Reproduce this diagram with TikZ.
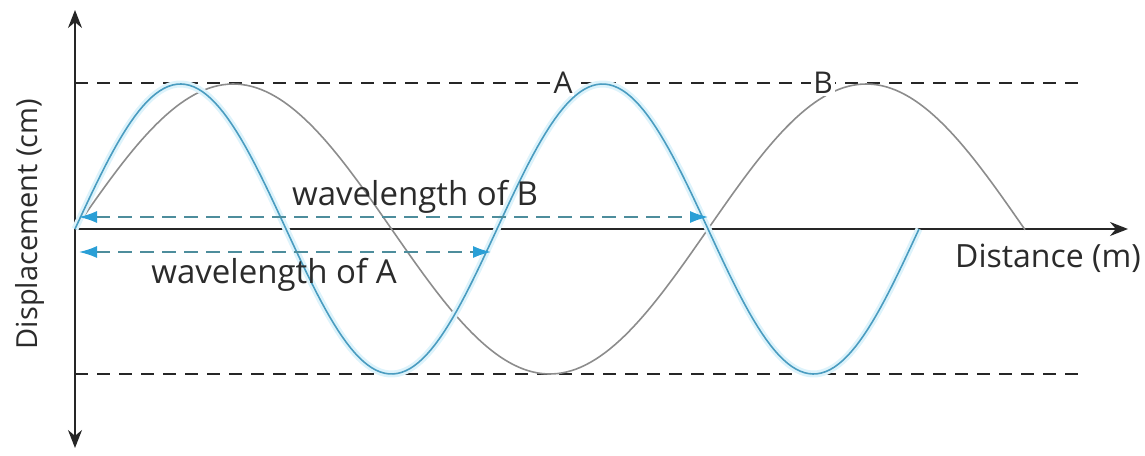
\documentclass[tikz,border=0pt]{standalone}
\usepackage{fontspec}
\setmainfont{Open Sans}
\usetikzlibrary{arrows.meta,positioning}
\definecolor{waveA}{HTML}{4A9CC0}
\definecolor{glowA}{HTML}{DDF3FB}
\definecolor{waveB}{HTML}{8C8C8C}
\definecolor{tipblue}{HTML}{2A9FD6}
\definecolor{dashteal}{HTML}{4D8D9C}
\definecolor{txt}{HTML}{2B2B2B}
\tikzset{
  axisline/.style={
    thick, color=black!85, {Stealth[length=9pt,width=7pt]}-{Stealth[length=9pt,width=7pt]}
  },
  levelline/.style={
    thick, color=black!85, dash pattern=on 6.5pt off 4.5pt
  },
  lambdaarrow/.style={
    thick, color=dashteal, dash pattern=on 7pt off 4pt,
    {Latex[length=9pt,width=6pt,color=tipblue]}-{Latex[length=9pt,width=6pt,color=tipblue]}
  },
  labeltext/.style={
    font=\fontsize{#1}{18}\selectfont, color=txt, inner sep=1pt
  },
  labeltext/.default=15,
}
\begin{document}
\begin{tikzpicture}[x=0.5pt, y=0.5pt]
  \useasboundingbox (-75,-226) rectangle (1070,229);
  % axes
  \coordinate (o) at (0,0);
  \coordinate (ytop) at (0,219);
  \coordinate (ybot) at (0,-219);
  \coordinate (xend) at (1053,0);
  \draw[axisline] (ybot) -- (ytop);
  \draw[thick, color=black!85, -{Stealth[length=9pt,width=7pt]}] (o) -- (xend);
  % amplitude levels
  \coordinate (topl) at (0,146);
  \coordinate (topr) at (1010,146);
  \coordinate (botl) at (0,-145);
  \coordinate (botr) at (1010,-145);
  \draw[levelline] (topl) -- (topr);
  \draw[levelline] (botl) -- (botr);
  % waves
  \draw[waveB, line width=0.8pt] plot[domain=0:950, samples=200] (\x,{145*sin(\x/633*360)});
  \draw[glowA, line width=3.5pt] plot[domain=0:844, samples=200] (\x,{145*sin(\x/422*360)});
  \draw[waveA, line width=0.8pt] plot[domain=0:844, samples=200] (\x,{145*sin(\x/422*360)});
  % wavelengths
  \coordinate (lamBl) at (4,12);
  \coordinate (lamBr) at (633,12);
  \coordinate (lamAl) at (4,-23);
  \coordinate (lamAr) at (416,-23);
  \draw[lambdaarrow] (lamBl) -- (lamBr);
  \draw[lambdaarrow] (lamAl) -- (lamAr);
  % labels
  \node[labeltext=16.5] (labB) at (340,32) {wavelength of B};
  \node[labeltext=16.5] (labA) at (199,-46) {wavelength of A};
  \node[labeltext, fill=white] (nameA) at (488,146) {A};
  \node[labeltext, fill=white] (nameB) at (748,146) {B};
  \node[labeltext=16] (xlab) at (973,-29) {Distance (m)};
  \node[labeltext=14.5, rotate=90] (ylab) at (-45,5) {Displacement (cm)};
\end{tikzpicture}
\end{document}
